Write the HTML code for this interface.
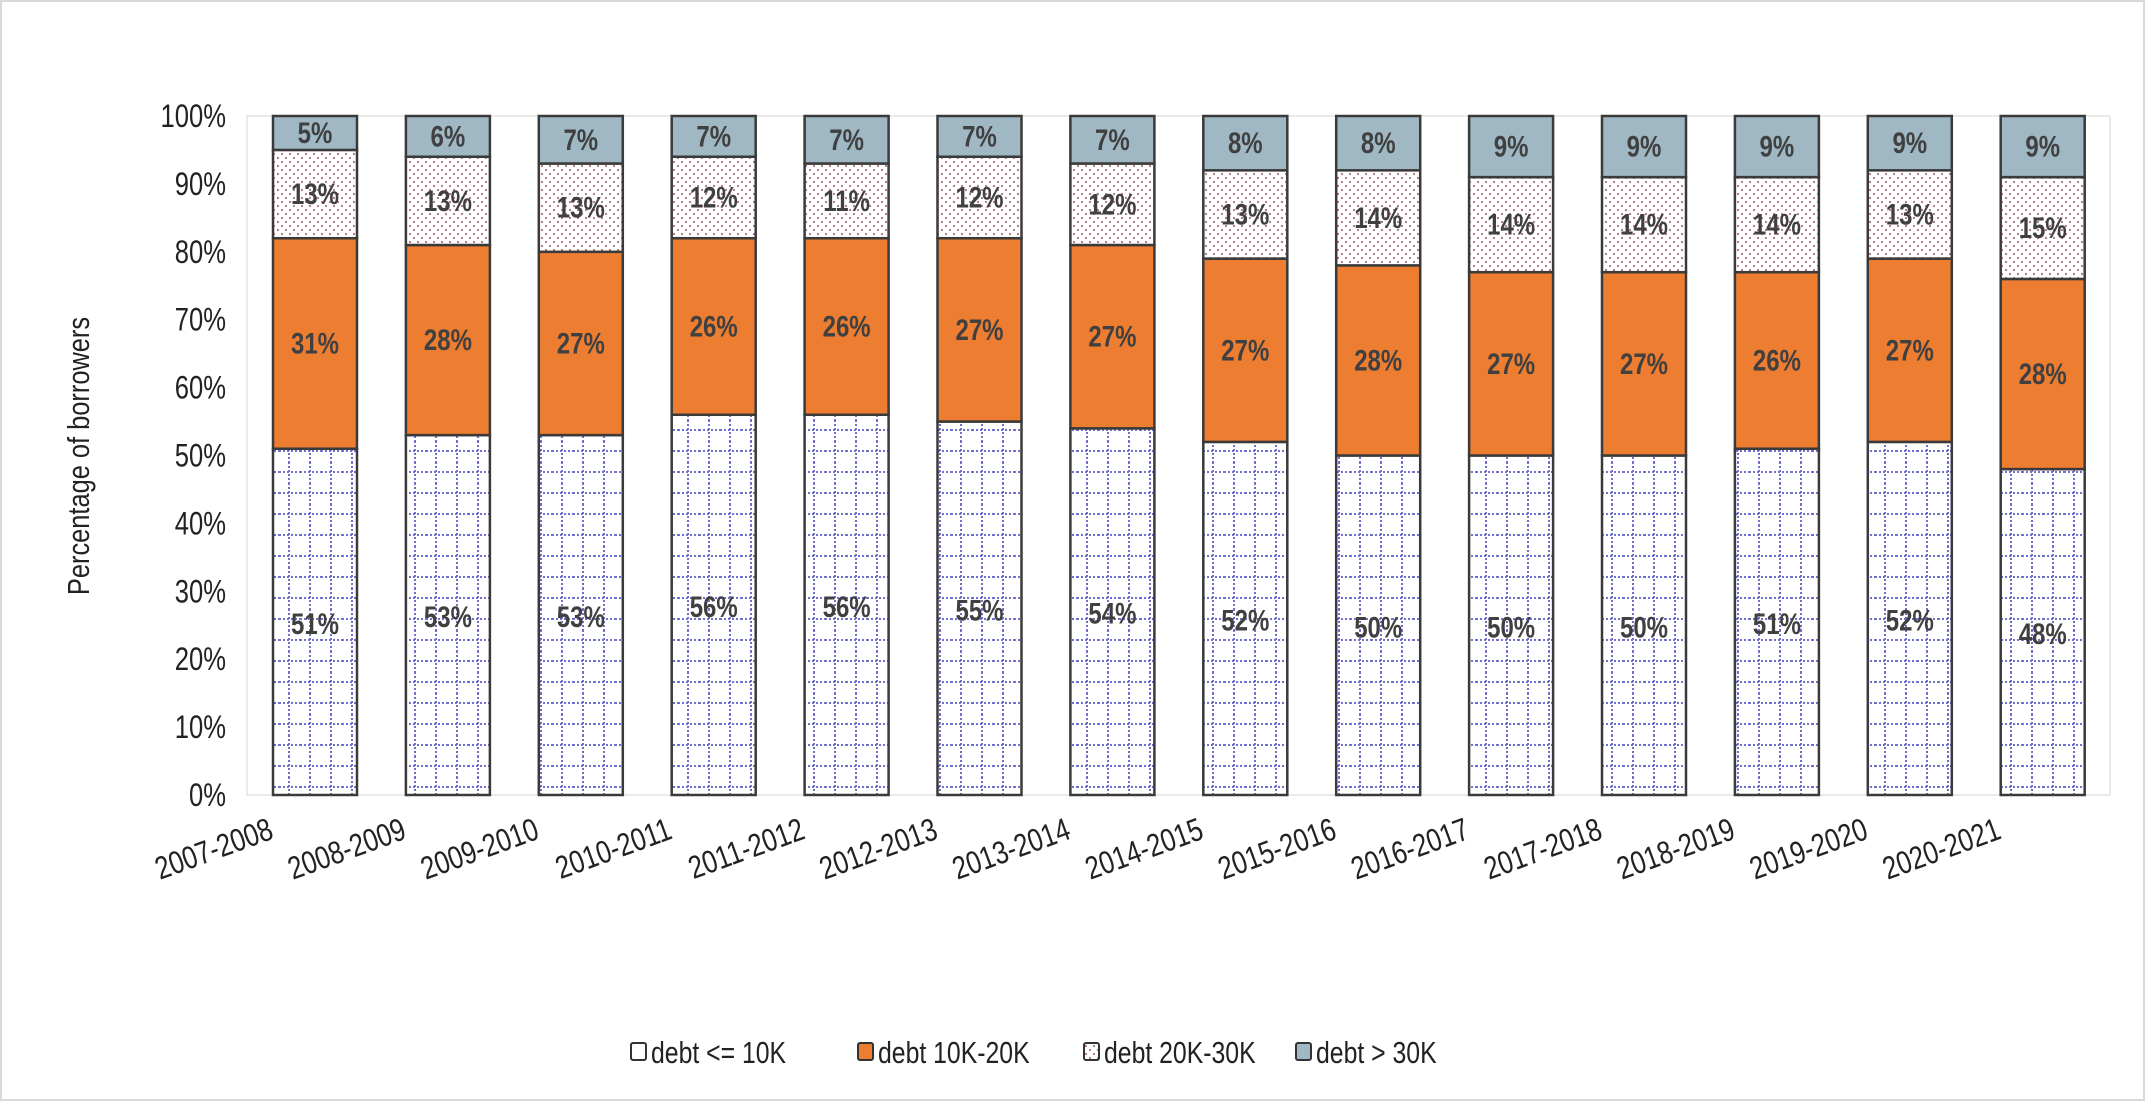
<!DOCTYPE html>
<html><head><meta charset="utf-8"><style>
html,body{margin:0;padding:0;background:#fff;}
svg{display:block;}
text{font-family:"Liberation Sans Narrow","Liberation Sans",sans-serif;}
</style></head><body>
<svg id="chart" width="2145" height="1102" xmlns="http://www.w3.org/2000/svg">
<defs>
<pattern id="pGrid" width="21" height="21" patternUnits="userSpaceOnUse" x="279" y="0">
<rect width="21" height="21" fill="#fff"/>
<line x1="0" y1="10" x2="21" y2="10" stroke="#7070d0" stroke-width="2" stroke-dasharray="2 2"/>
<line x1="10" y1="0" x2="10" y2="21" stroke="#7070d0" stroke-width="2" stroke-dasharray="2 2"/>
</pattern>
<pattern id="pDots" width="8" height="8" patternUnits="userSpaceOnUse">
<rect width="8" height="8" fill="#fff"/>
<circle cx="2" cy="2" r="1.1" fill="#b07080"/>
<circle cx="6" cy="6" r="1.1" fill="#b07080"/>
</pattern>
</defs>
<rect x="1" y="1" width="2143" height="1099" fill="#fff" stroke="#d9d9d9" stroke-width="2"/>
<rect x="247" y="116" width="1863" height="679" fill="none" stroke="#e3e3e3" stroke-width="1.5"/>
<g id="yaxis"></g>
<g id="bars"></g>
<g id="xaxis"></g>
<text transform="translate(89 456) rotate(-90) scale(0.82 1)" font-size="31" fill="#222" text-anchor="middle">Percentage of borrowers</text>
<g id="legend"></g>
</svg>
<script>
const categories=["2007-2008","2008-2009","2009-2010","2010-2011","2011-2012","2012-2013","2013-2014","2014-2015","2015-2016","2016-2017","2017-2018","2018-2019","2019-2020","2020-2021"];
const debtUnder10K=[51,53,53,56,56,55,54,52,50,50,50,51,52,48];
const debt10to20K=[31,28,27,26,26,27,27,27,28,27,27,26,27,28];
const debt20to30K=[13,13,13,12,11,12,12,13,14,14,14,14,13,15];
const debtOver30K=[5,6,7,7,7,7,7,8,8,9,9,9,9,9];
const yTicks=[0,10,20,30,40,50,60,70,80,90,100];
const seriesNames=["debt <= 10K","debt 10K-20K","debt 20K-30K","debt >  30K"];

const NS="http://www.w3.org/2000/svg";
const y0=795,y1=116,x0=315,step=132.9,bw=84;
const SX=0.8;
function yS(v){return y0-(v/100)*(y0-y1);}
function xS(i){return x0+i*step;}
function mk(tag,attrs,parent){const e=document.createElementNS(NS,tag);for(const k in attrs)e.setAttribute(k,attrs[k]);parent.appendChild(e);return e;}

const yaxis=document.getElementById('yaxis');
yTicks.forEach(t=>{
  const tx=mk('text',{transform:`translate(226 ${yS(t)+11}) scale(${SX} 1)`,'font-size':32,fill:'#222','text-anchor':'end'},yaxis);
  tx.textContent=t+'%';
  
  
});

const series=[debtUnder10K,debt10to20K,debt20to30K,debtOver30K];
const fills=["url(#pGrid)","#ed7d31","url(#pDots)","#9fb8c4"];
const segNames=["bar-debt-under-10k","bar-debt-10k-20k","bar-debt-20k-30k","bar-debt-over-30k"];
const bars=document.getElementById('bars');
categories.forEach((c,i)=>{
  let cum=0;
  series.forEach((s,k)=>{
    const v=s[i];
    const top=(k===series.length-1)?100:Math.min(100,cum+v);
    const ya=yS(top),yb=yS(cum);
    const r=mk('rect',{x:xS(i)-bw/2,y:ya,width:bw,height:yb-ya,fill:fills[k],stroke:'#3a3a3a','stroke-width':2.5},bars);
    
    
    const ly=(k===0)?yS(cum+v/2)+12:yS((cum+top)/2)+10;
    const t=mk('text',{transform:`translate(${xS(i)} ${ly}) scale(${SX} 1)`,'font-size':30,'font-weight':'bold',fill:'#404040','text-anchor':'middle'},bars);
    t.textContent=v+'%';
    
    
    cum=top;
  });
});

const xaxis=document.getElementById('xaxis');
categories.forEach((c,i)=>{
  const x=xS(i)-40,y=838;
  const t=mk('text',{transform:`translate(${x} ${y}) rotate(-20) scale(${SX} 1)`,'font-size':32,fill:'#222','text-anchor':'end'},xaxis);
  t.textContent=c;
  
  
});

const legend=document.getElementById('legend');
const lx=[631,858,1084,1296];
seriesNames.forEach((n,k)=>{
  const g=mk('g',{},legend);
  
  
  mk('rect',{x:lx[k],y:1043,width:15,height:17,fill:fills[k],stroke:'#333','stroke-width':2,rx:2},g);
  const t=mk('text',{transform:`translate(${lx[k]+20} 1063) scale(${SX} 1)`,'font-size':31,fill:'#222'},g);
  t.textContent=n;
});
</script>
</body></html>
